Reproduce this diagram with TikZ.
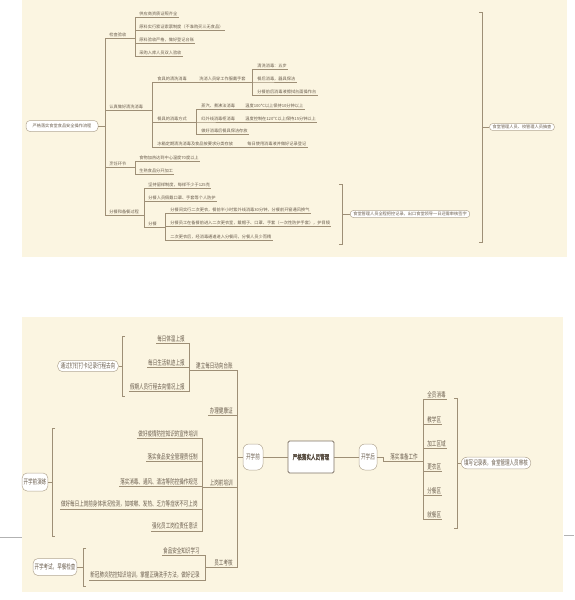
\documentclass[tikz,border=0pt]{standalone}
\usepackage{fontspec}
\usetikzlibrary{positioning, calc}
\newfontfamily\cjk[AutoFakeBold=1.5]{Noto Sans CJK SC}
\newfontfamily\cjktall[FakeStretch=0.65, AutoFakeBold=1.5]{Noto Sans CJK SC}
\newcommand{\toptext}{\cjk\fontsize{4.2}{5}\selectfont}
\newcommand{\lowtext}{\cjktall\fontsize{7}{8}\selectfont}
\definecolor{mapPaper}{HTML}{FBF5E1}
\definecolor{mapLine}{HTML}{9E8F76}
\definecolor{mapInk}{HTML}{6A5D4D}
\definecolor{mapEdge}{HTML}{B3A792}

\begin{document}
\begin{tikzpicture}[x=1pt, y=-1pt,
  link/.style={draw=mapLine, line width=0.55pt},
  brace/.style={draw=mapLine, line width=0.55pt},
  tl/.style={font=\toptext, text=mapInk, inner xsep=1.2pt, inner ysep=1pt, anchor=south west},
  ll/.style={font=\lowtext, text=mapInk, inner xsep=1.2pt, inner ysep=1.2pt, anchor=south east},
  lr/.style={ll, anchor=south west},
  pill/.style={draw=mapEdge, fill=white, line width=0.5pt, rounded corners=4pt, text=mapInk, inner xsep=3pt, inner ysep=1.5pt}
]
\useasboundingbox (0,0) rectangle (574,600);
\fill[mapPaper] (22,0) rectangle (567,257);
\fill[mapPaper] (22,317) rectangle (563,592);
\draw[gray!60, line width=0.6pt] (0,537) -- (22,537);
\draw[gray!60, line width=0.6pt] (564,535) -- (574,535);

% top panel: food handling flow
\node[pill, font=\toptext, minimum width=72pt, minimum height=11pt] (root) at (62,126) {严格落实食堂食品安全操作流程};
\coordinate (trunkT) at (105,126);
\node[tl] (a) at (108,38) {检查验收};
\node[tl] (b) at (108,110) {认真做好清洗消毒};
\node[tl] (c) at (108,167) {烹饪环节};
\node[tl] (d) at (108,215) {分餐和备餐过程};
\draw[link] (root) -- (trunkT);
\foreach \n in {a,b,c,d} \draw[link] (trunkT) |- (\n.south east);

\coordinate (barA) at (135,0);
\node[tl] (a1) at (138,17) {供应商资质证照齐全};
\node[tl] (a2) at (138,30) {原料实行索证索票制度（不准购买三无食品）};
\node[tl] (a3) at (138,43) {原料验收严格，做好登记台账};
\node[tl] (a4) at (138,56) {采购入库人员双人验收};
\foreach \n in {a1,a2,a3,a4} \draw[link] (a.south east) -- (a.south east -| barA) |- (\n.south east);

\coordinate (barB) at (152,0);
\node[tl] (b1) at (156,82) {食具的清洗消毒};
\node[tl] (b2) at (156,122) {餐具的消毒方式};
\node[tl] (b3) at (156,147) {冰箱定期清洗消毒及食品按要求分类存放};
\foreach \n in {b1,b2,b3} \draw[link] (b.south east) -- (b.south east -| barB) |- (\n.south east);

\coordinate (barB1) at (252,0);
\node[tl] (b1x) at (198,82) {洗消人员穿工作服戴手套};
\node[tl] (b11) at (256,69) {清洗消毒：五步};
\node[tl] (b12) at (256,82) {餐后消毒，器具保洁};
\node[tl] (b13) at (256,95) {分餐前后消毒液擦拭台面操作台};
\draw[link] (b1.south east) -- (b1x.south east);
\foreach \n in {b11,b12,b13} \draw[link] (b1x.south east) -- (b1x.south east -| barB1) |- (\n.south east);

\coordinate (barB2) at (196,0);
\node[tl] (b21) at (200,109) {蒸汽、煮沸法消毒};
\node[tl] (b22) at (200,122) {红外线消毒柜消毒};
\node[tl] (b23) at (200,134) {做好消毒后餐具保洁存放};
\foreach \n in {b21,b22,b23} \draw[link] (b2.south east) -- (b2.south east -| barB2) |- (\n.south east);
\node[tl] (b21x) at (244,109) {温度100°C以上保持10分钟以上};
\node[tl] (b22x) at (244,122) {温度控制在120°C以上保持15分钟以上};
\node[tl] (b3x) at (246,147) {每日使用消毒液并做好记录登记};
\draw[link] (b21.south east) -- (b21x.south east);
\draw[link] (b22.south east) -- (b22x.south east);
\draw[link] (b3.south east) -- (b3x.south east);

\coordinate (barC) at (135,0);
\node[tl] (c1) at (138,161) {食物加热达到中心温度70度以上};
\node[tl] (c2) at (138,174) {生熟食品分开加工};
\foreach \n in {c1,c2} \draw[link] (c.south east) -- (c.south east -| barC) |- (\n.south east);

\coordinate (barD) at (144,0);
\node[tl] (d1) at (147,188) {坚持留样制度，每样不少于125克};
\node[tl] (d2) at (147,201) {分餐人员佩戴口罩、手套等个人防护};
\node[tl] (d3) at (147,227) {分餐};
\foreach \n in {d1,d2,d3} \draw[link] (d.south east) -- (d.south east -| barD) |- (\n.south east);

\coordinate (barD3) at (165,0);
\node[tl] (d31) at (169,213) {分餐间实行二次更衣，餐前半小时紫外线消毒30分钟，分餐前开窗通风换气};
\node[tl] (d32) at (169,226) {分餐员工在备餐前进入二次更衣室，戴帽子、口罩、手套（一次性防护手套），护目镜};
\node[tl] (d33) at (169,240) {二次更衣后，经消毒通道进入分餐间，分餐人员少而精};
\foreach \n in {d31,d32,d33} \draw[link] (d3.south east) -- (d3.south east -| barD3) |- (\n.south east);

% brackets on the right
\coordinate (brD) at (342,0);
\draw[brace] (339,184) -- (342,184) -- (342,244) -- (339,244);
\node[pill, font=\toptext, rounded corners=3pt] (chkD) at (410,214) {食堂管理人员全程把控记录，出口食堂领导一日还需审核签字};
\draw[brace] (chkD.west) -- (chkD.west -| brD);

\coordinate (brAll) at (482,0);
\draw[brace] (479,12) -- (482,12) -- (482,242) -- (479,242);
\node[pill, font=\toptext, rounded corners=3pt] (chkAll) at (522,127) {食堂管理人员、校管理人员抽查};
\draw[brace] (chkAll.west) -- (chkAll.west -| brAll);

% lower panel: staff management
\node[draw=mapInk!85, fill=white, line width=0.8pt, rounded corners=1.5pt, font=\lowtext\bfseries, text=mapInk!80!black, minimum width=46pt, minimum height=32pt] (core) at (311,457) {严格落实人员管理};
\node[pill, font=\lowtext, rounded corners=6pt, inner xsep=1pt, minimum width=20pt, minimum height=26pt] (pre) at (253,457) {开学前};
\node[pill, font=\lowtext, rounded corners=6pt, inner xsep=1pt, minimum width=18pt, minimum height=26pt] (post) at (368,457) {开学后};
\draw[link, line width=0.9pt] (pre) -- (core);
\draw[link, line width=0.9pt] (core) -- (post);

\coordinate (trunkL) at (237,457);
\node[ll] (p1) at (234,370) {建立每日动向台账};
\node[ll] (p2) at (234,415) {办理健康证};
\node[ll] (p3) at (234,487) {上岗前培训};
\node[ll] (p4) at (234,567) {员工考核};
\draw[link] (pre.west) -- (trunkL);
\foreach \n in {p1,p2,p3,p4} \draw[link] (trunkL) |- (\n.south west);

\coordinate (barP1) at (189,0);
\node[ll] (p11) at (186,343) {每日体温上报};
\node[ll] (p12) at (186,367) {每日生活轨迹上报};
\node[ll] (p13) at (186,391) {假期人员行程去向情况上报};
\foreach \n in {p11,p12,p13} \draw[link] (p1.south west) -- (p1.south west -| barP1) |- (\n.south west);

\coordinate (barP3) at (202,0);
\node[ll] (p31) at (199,438) {做好疫情防控知识的宣传培训};
\node[ll] (p32) at (199,461) {落实食品安全管理责任制};
\node[ll] (p33) at (199,486) {落实消毒、通风、清洁等防控操作规范};
\node[ll] (p34) at (199,509) {做好每日上岗前身体状况检测，如咳嗽、发热、乏力等症状不可上岗};
\node[ll] (p35) at (199,531) {强化员工岗位责任意识};
\foreach \n in {p31,p32,p33,p34,p35} \draw[link] (p3.south west) -- (p3.south west -| barP3) |- (\n.south west);

\coordinate (barP4) at (205,0);
\node[ll] (p41) at (201,555) {食品安全知识学习};
\node[ll] (p42) at (201,580) {新冠肺炎防控知识培训，掌握正确洗手方法，做好记录};
\foreach \n in {p41,p42} \draw[link] (p4.south west) -- (p4.south west -| barP4) |- (\n.south west);

% brackets on the left
\coordinate (brP1) at (122,0);
\draw[brace] (125,336) -- (122,336) -- (122,396) -- (125,396);
\node[pill, font=\lowtext, rounded corners=5pt, inner ysep=2.5pt] (noteP1) at (88,366) {通过钉钉打卡记录行程去向};
\draw[brace] (noteP1.east) -- (noteP1.east -| brP1);

\coordinate (brP3) at (52,0);
\draw[brace] (55,428) -- (52,428) -- (52,536) -- (55,536);
\node[pill, font=\lowtext, rounded corners=5pt, inner xsep=1.5pt, minimum height=18pt] (noteP3) at (35,482) {开学前演练};
\draw[brace] (noteP3.east) -- (noteP3.east -| brP3);

\coordinate (brP4) at (83,0);
\draw[brace] (86,548) -- (83,548) -- (83,586) -- (86,586);
\node[pill, font=\lowtext, rounded corners=5pt, inner xsep=1.5pt, minimum height=17pt] (noteP4) at (55,567) {开学考试，早餐检查};
\draw[brace] (noteP4.east) -- (noteP4.east -| brP4);

% after school opens
\node[lr] (q) at (389,461) {落实准备工作};
\draw[link] (post.east) -- ++(6,0) |- (q.south east);
\coordinate (barQ) at (423,0);
\node[lr] (q1) at (426,399) {全员消毒};
\node[lr] (q2) at (426,424) {教学区};
\node[lr] (q3) at (426,448) {加工区域};
\node[lr] (q4) at (426,471) {更衣区};
\node[lr] (q5) at (426,495) {分餐区};
\node[lr] (q6) at (426,519) {就餐区};
\foreach \n in {q1,q2,q3,q4,q5,q6} \draw[link] (q.south east) -- (q.south east -| barQ) |- (\n.south east);

\coordinate (brQ) at (457,0);
\draw[brace] (454,398) -- (457,398) -- (457,528) -- (454,528);
\node[pill, font=\lowtext, rounded corners=6pt, inner ysep=2.5pt] (noteQ) at (496,463) {填写记录表，食堂管理人员审核};
\draw[brace] (noteQ.west) -- (noteQ.west -| brQ);
\end{tikzpicture}
\end{document}
